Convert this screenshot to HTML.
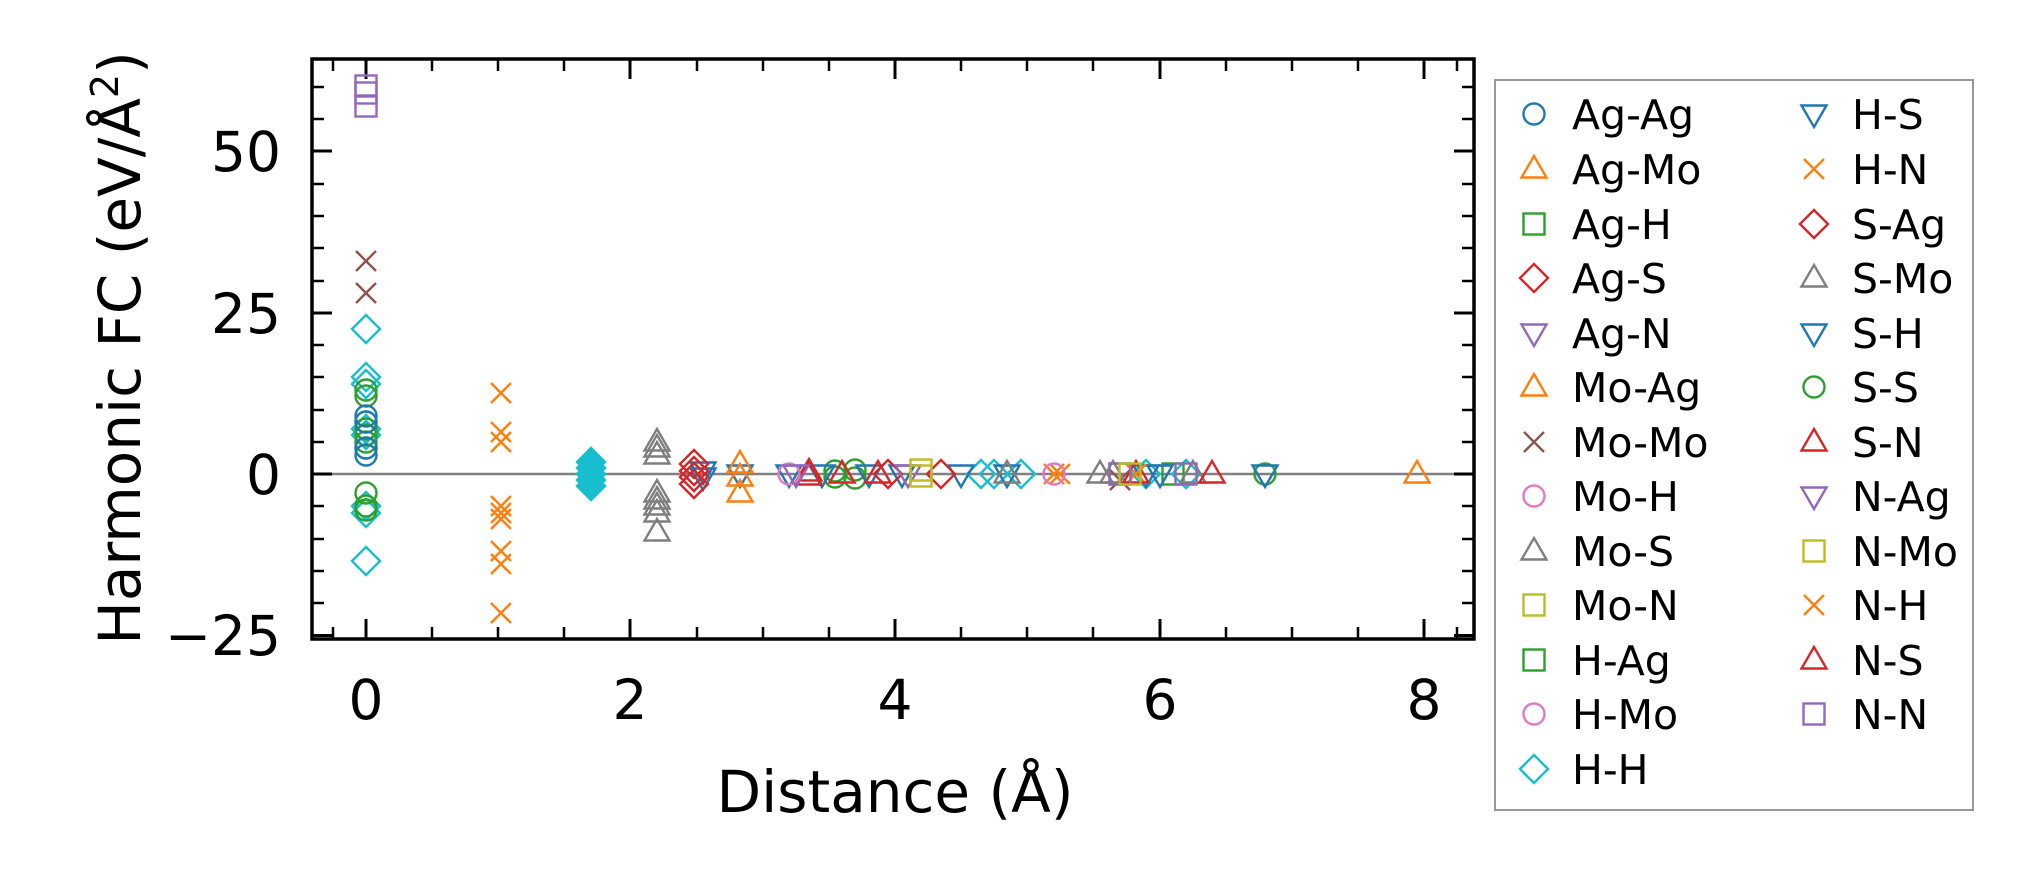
<!DOCTYPE html>
<html><head><meta charset="utf-8"><style>
html,body{margin:0;padding:0;background:#fff;}
svg{display:block;font-family:"DejaVu Sans","Liberation Sans",sans-serif;}
</style></head><body>
<svg width="2034" height="883" viewBox="0 0 2034 883" xmlns="http://www.w3.org/2000/svg">
<defs>
<g id="o"><circle r="10.5" fill="none" stroke="currentColor" stroke-width="2.4"/></g>
<g id="u"><polygon points="0,-13 12.5,8.5 -12.5,8.5" fill="none" stroke="currentColor" stroke-width="2.4"/></g>
<g id="d"><polygon points="0,13 12.5,-8.5 -12.5,-8.5" fill="none" stroke="currentColor" stroke-width="2.4"/></g>
<g id="s"><rect x="-10.5" y="-10.5" width="21" height="21" fill="none" stroke="currentColor" stroke-width="2.4"/></g>
<g id="D"><polygon points="0,-14 14,0 0,14 -14,0" fill="none" stroke="currentColor" stroke-width="2.4"/></g>
<g id="x"><path d="M-10,-10L10,10M-10,10L10,-10" stroke="currentColor" stroke-width="2.4"/></g>
<g id="F"><polygon points="0,-14 14,0 0,14 -14,0" fill="currentColor" stroke="currentColor" stroke-width="2.4"/></g>
</defs>
<line x1="312" y1="474" x2="1474" y2="474" stroke="#808080" stroke-width="2.5"/>
<g stroke="#000" stroke-width="3">
<path d="M366,639V619M630,639V619M895,639V619M1160,639V619M1424,639V619M366,59V79M630,59V79M895,59V79M1160,59V79M1424,59V79"/>
<path stroke-width="2.5" d="M432,639V627M498,639V627M564,639V627M697,639V627M763,639V627M829,639V627M961,639V627M1027,639V627M1093,639V627M1226,639V627M1292,639V627M1358,639V627M432,59V71M498,59V71M564,59V71M697,59V71M763,59V71M829,59V71M961,59V71M1027,59V71M1093,59V71M1226,59V71M1292,59V71M1358,59V71M1457,59V71M1457,639V627M333,59V71M333,639V627"/>
<path d="M312,635.5H332M312,474H332M312,313H332M312,151H332M1474,635.5H1454M1474,474H1454M1474,313H1454M1474,151H1454"/>
<path stroke-width="2.5" d="M312,603H324M312,571H324M312,539H324M312,506H324M312,442H324M312,410H324M312,377H324M312,345H324M312,281H324M312,248H324M312,216H324M312,184H324M312,119H324M312,87H324M1474,603H1462M1474,571H1462M1474,539H1462M1474,506H1462M1474,442H1462M1474,410H1462M1474,377H1462M1474,345H1462M1474,281H1462M1474,248H1462M1474,216H1462M1474,184H1462M1474,119H1462M1474,87H1462"/>
</g>
<rect x="312" y="59" width="1162" height="580" fill="none" stroke="#000" stroke-width="3.5"/>
<g font-size="55" fill="#000" text-anchor="middle">
<text x="366" y="719">0</text><text x="630" y="719">2</text><text x="895" y="719">4</text><text x="1160" y="719">6</text><text x="1424" y="719">8</text>
</g>
<g font-size="55" fill="#000" text-anchor="end">
<text x="281" y="655">−25</text><text x="281" y="494">0</text><text x="281" y="333">25</text><text x="281" y="171">50</text>
</g>
<text x="895" y="812" font-size="58" text-anchor="middle">Distance (Å)</text>
<text transform="translate(140,348) rotate(-90)" font-size="58" text-anchor="middle">Harmonic FC (eV/Å<tspan font-size="38" dy="-22">2</tspan><tspan dy="22">)</tspan></text>
<g style="color:#9467bd"><use href="#s" x="366" y="86"/><use href="#s" x="366" y="93"/><use href="#s" x="366" y="106"/></g>
<g style="color:#8c564b"><use href="#x" x="366" y="261"/><use href="#x" x="366" y="293"/><use href="#x" x="1120" y="480"/></g>
<g style="color:#17becf"><use href="#D" x="366" y="329"/><use href="#D" x="366" y="377"/><use href="#D" x="366" y="384"/><use href="#D" x="366" y="429"/><use href="#D" x="366" y="435"/><use href="#D" x="366" y="506"/><use href="#D" x="366" y="513"/><use href="#D" x="366" y="561"/>
<use href="#F" x="591" y="462"/><use href="#F" x="591" y="468"/><use href="#F" x="591" y="474"/><use href="#F" x="591" y="480"/><use href="#F" x="591" y="486"/>
<use href="#D" x="981" y="474"/><use href="#D" x="994" y="474"/><use href="#D" x="1021" y="474"/><use href="#D" x="1146" y="474"/><use href="#D" x="1186" y="474"/></g>
<g style="color:#2ca02c"><use href="#o" x="366" y="390"/><use href="#o" x="366" y="396"/><use href="#o" x="366" y="422"/><use href="#o" x="366" y="429"/><use href="#o" x="366" y="435"/><use href="#o" x="366" y="442"/><use href="#o" x="366" y="448"/><use href="#o" x="366" y="493"/><use href="#o" x="366" y="506"/><use href="#o" x="366" y="510"/>
<use href="#o" x="835" y="471"/><use href="#o" x="835" y="477"/><use href="#o" x="855" y="470"/><use href="#o" x="855" y="478"/><use href="#o" x="1265" y="474"/><use href="#s" x="1120" y="474"/><use href="#s" x="1173" y="474"/></g>
<g style="color:#1f77b4"><use href="#o" x="366" y="416"/><use href="#o" x="366" y="422"/><use href="#o" x="366" y="455"/><use href="#o" x="366" y="448"/>
<use href="#d" x="703" y="471"/><use href="#d" x="703" y="477"/><use href="#d" x="740" y="474"/><use href="#d" x="789" y="474"/><use href="#d" x="822" y="474"/><use href="#d" x="869" y="474"/><use href="#d" x="902" y="474"/><use href="#d" x="961" y="474"/><use href="#d" x="1007" y="474"/><use href="#d" x="1146" y="474"/><use href="#d" x="1160" y="474"/><use href="#d" x="1265" y="474"/></g>
<g style="color:#ff7f0e"><use href="#x" x="501" y="393"/><use href="#x" x="501" y="432"/><use href="#x" x="501" y="442"/><use href="#x" x="501" y="506"/><use href="#x" x="501" y="513"/><use href="#x" x="501" y="519"/><use href="#x" x="501" y="551"/><use href="#x" x="501" y="564"/><use href="#x" x="501" y="613"/>
<use href="#u" x="740" y="464"/><use href="#u" x="740" y="477"/><use href="#u" x="740" y="493"/><use href="#x" x="1054" y="474"/><use href="#x" x="1060" y="474"/><use href="#x" x="1136" y="474"/><use href="#u" x="1417" y="474"/></g>
<g style="color:#7f7f7f"><use href="#u" x="657" y="442"/><use href="#u" x="657" y="448"/><use href="#u" x="657" y="455"/><use href="#u" x="657" y="493"/><use href="#u" x="657" y="500"/><use href="#u" x="657" y="506"/><use href="#u" x="657" y="513"/><use href="#u" x="657" y="532"/>
<use href="#u" x="1007" y="474"/><use href="#u" x="1100" y="474"/><use href="#u" x="1113" y="474"/><use href="#u" x="1193" y="474"/></g>
<g style="color:#d62728"><use href="#D" x="694" y="464"/><use href="#D" x="694" y="471"/><use href="#D" x="694" y="477"/><use href="#D" x="694" y="484"/>
<use href="#u" x="809" y="472"/><use href="#u" x="809" y="476"/><use href="#u" x="842" y="474"/><use href="#u" x="878" y="474"/><use href="#D" x="888" y="474"/><use href="#D" x="941" y="474"/><use href="#u" x="1136" y="474"/><use href="#u" x="1212" y="474"/></g>
<g style="color:#e377c2"><use href="#o" x="789" y="474"/><use href="#o" x="1054" y="474"/></g>
<g style="color:#9467bd"><use href="#d" x="796" y="474"/><use href="#d" x="908" y="474"/><use href="#s" x="1120" y="474"/><use href="#s" x="1186" y="474"/></g>
<g style="color:#bcbd22"><use href="#s" x="921" y="470"/><use href="#s" x="921" y="476"/><use href="#s" x="1130" y="474"/></g>
<rect x="1495" y="80" width="478" height="730" fill="#fff" stroke="#999" stroke-width="2"/>
<g font-size="41" fill="#000">
<g style="color:#1f77b4"><use href="#o" x="1534" y="114"/></g><text x="1572" y="129">Ag-Ag</text>
<g style="color:#ff7f0e"><use href="#u" x="1534" y="169"/></g><text x="1572" y="184">Ag-Mo</text>
<g style="color:#2ca02c"><use href="#s" x="1534" y="224"/></g><text x="1572" y="239">Ag-H</text>
<g style="color:#d62728"><use href="#D" x="1534" y="278"/></g><text x="1572" y="293">Ag-S</text>
<g style="color:#9467bd"><use href="#d" x="1534" y="333"/></g><text x="1572" y="348">Ag-N</text>
<g style="color:#ff7f0e"><use href="#u" x="1534" y="387"/></g><text x="1572" y="402">Mo-Ag</text>
<g style="color:#8c564b"><use href="#x" x="1534" y="442"/></g><text x="1572" y="457">Mo-Mo</text>
<g style="color:#e377c2"><use href="#o" x="1534" y="496"/></g><text x="1572" y="511">Mo-H</text>
<g style="color:#7f7f7f"><use href="#u" x="1534" y="551"/></g><text x="1572" y="566">Mo-S</text>
<g style="color:#bcbd22"><use href="#s" x="1534" y="605"/></g><text x="1572" y="620">Mo-N</text>
<g style="color:#2ca02c"><use href="#s" x="1534" y="660"/></g><text x="1572" y="675">H-Ag</text>
<g style="color:#e377c2"><use href="#o" x="1534" y="714"/></g><text x="1572" y="729">H-Mo</text>
<g style="color:#17becf"><use href="#D" x="1534" y="769"/></g><text x="1572" y="784">H-H</text>
<g style="color:#1f77b4"><use href="#d" x="1814" y="114"/></g><text x="1852" y="129">H-S</text>
<g style="color:#ff7f0e"><use href="#x" x="1814" y="169"/></g><text x="1852" y="184">H-N</text>
<g style="color:#d62728"><use href="#D" x="1814" y="224"/></g><text x="1852" y="239">S-Ag</text>
<g style="color:#7f7f7f"><use href="#u" x="1814" y="278"/></g><text x="1852" y="293">S-Mo</text>
<g style="color:#1f77b4"><use href="#d" x="1814" y="333"/></g><text x="1852" y="348">S-H</text>
<g style="color:#2ca02c"><use href="#o" x="1814" y="387"/></g><text x="1852" y="402">S-S</text>
<g style="color:#d62728"><use href="#u" x="1814" y="442"/></g><text x="1852" y="457">S-N</text>
<g style="color:#9467bd"><use href="#d" x="1814" y="496"/></g><text x="1852" y="511">N-Ag</text>
<g style="color:#bcbd22"><use href="#s" x="1814" y="551"/></g><text x="1852" y="566">N-Mo</text>
<g style="color:#ff7f0e"><use href="#x" x="1814" y="605"/></g><text x="1852" y="620">N-H</text>
<g style="color:#d62728"><use href="#u" x="1814" y="660"/></g><text x="1852" y="675">N-S</text>
<g style="color:#9467bd"><use href="#s" x="1814" y="714"/></g><text x="1852" y="729">N-N</text>
</g>
</svg>
</body></html>
